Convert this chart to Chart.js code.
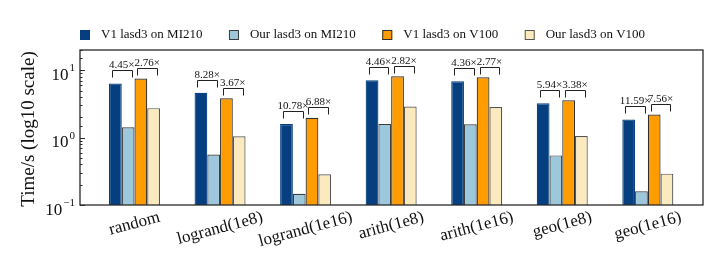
<!DOCTYPE html>
<html><head><meta charset="utf-8">
<script src="https://cdn.jsdelivr.net/npm/chart.js@4.4.0/dist/chart.umd.min.js"></script>
<style>html,body{margin:0;padding:0;background:#fff;} canvas{display:block;}</style>
</head><body>
<canvas id="c" width="718" height="267"></canvas>
<script>
const categories = ['random','logrand(1e8)','logrand(1e16)','arith(1e8)','arith(1e16)','geo(1e8)','geo(1e16)'];
const seriesNames = ['V1 lasd3 on MI210','Our lasd3 on MI210','V1 lasd3 on V100','Our lasd3 on V100'];
const v1MI210  = [6.37, 4.64, 1.59, 7.13, 6.89, 3.24, 1.86];
const ourMI210 = [1.43, 0.56, 0.147, 1.60, 1.58, 0.545, 0.16];
const v1V100   = [7.55, 3.84, 1.97, 8.16, 7.89, 3.58, 2.21];
const ourV100  = [2.74, 1.05, 0.286, 2.89, 2.85, 1.06, 0.292];
const speedupMI210 = ['4.45','8.28','10.78','4.46','4.36','5.94','11.59'];
const speedupV100  = ['2.76','3.67','6.88','2.82','2.77','3.38','7.56'];
const yTickValues = [0.1, 1, 10];
const yAxisTitle = 'Time/s (log10 scale)';

const SERIF = '"Liberation Serif","Times New Roman",serif';
const fills = ['#053f7f', '#9dc8dc', '#fe9c00', '#faeabd'];
const edges = ['#053f7f', '#3c3c3c', '#2e2e2e', '#555555'];
const seriesValues = [v1MI210, ourMI210, v1V100, ourV100];

const datasets = seriesValues.map((vals, k) => ({
  label: seriesNames[k],
  data: vals.map((v, i) => ({x: i, y: v})),
  backgroundColor: fills[k],
  borderColor: edges[k],
  borderWidth: 1.2,
  borderSkipped: 'start',
  categoryPercentage: 0.596,
  barPercentage: 1.0
}));

const decor = {
  id: 'decor',
  afterDatasetsDraw(chart) {
    const ctx = chart.ctx;
    const a = chart.chartArea;
    const ys = chart.scales.y, xs = chart.scales.x;
    ctx.save();
    // frame
    ctx.strokeStyle = '#2a2a2a';
    ctx.lineWidth = 1.3;
    ctx.strokeRect(a.left, a.top, a.right - a.left, a.bottom - a.top);
    // inward y ticks
    ctx.lineWidth = 1;
    ys.ticks.forEach(t => {
      const v = t.value;
      const lg = Math.log10(v);
      const major = Math.abs(lg - Math.round(lg)) < 1e-6;
      const y = Math.round(ys.getPixelForValue(v)) + 0.5;
      ctx.beginPath();
      ctx.moveTo(a.left, y);
      ctx.lineTo(a.left + (major ? 5 : 2.5), y);
      ctx.stroke();
    });
    // y tick labels 10^n
    ctx.fillStyle = '#111';
    ctx.textBaseline = 'alphabetic';
    ctx.textAlign = 'left';
    yTickValues.forEach(v => {
      const e = Math.round(Math.log10(v));
      const es = e < 0 ? '\u2212' + (-e) : String(e);
      const y = ys.getPixelForValue(v);
      ctx.font = '11px ' + SERIF;
      const ew = ctx.measureText(es).width;
      ctx.font = '17px ' + SERIF;
      const bw = ctx.measureText('10').width;
      const right = 75;
      const xb = right - ew - 1 - bw;
      ctx.fillText('10', xb, y + 9.5);
      ctx.font = '11px ' + SERIF;
      ctx.fillText(es, xb + bw + 1, y + 1);
    });
    // y title
    ctx.save();
    ctx.translate(29, (a.top + a.bottom) / 2 + 1.5);
    ctx.rotate(-Math.PI / 2);
    ctx.font = '19px ' + SERIF;
    ctx.textAlign = 'center';
    ctx.textBaseline = 'middle';
    ctx.fillText(yAxisTitle, 0, 0);
    ctx.restore();
    // x labels rotated 15deg, centered
    ctx.font = '17px ' + SERIF;
    categories.forEach((lab, i) => {
      const cx = xs.getPixelForValue(i);
      const w = ctx.measureText(lab).width;
      const cy = a.bottom + 12 + w * 0.1294;
      ctx.save();
      ctx.translate(cx, cy);
      ctx.rotate(-15 * Math.PI / 180);
      ctx.textAlign = 'center';
      ctx.textBaseline = 'middle';
      ctx.fillText(lab, 0, 0);
      ctx.restore();
    });
    // brackets + speedup labels
    const pairs = [[0, 1, speedupMI210, 13], [2, 3, speedupV100, 10.7]];
    ctx.strokeStyle = '#222';
    ctx.lineWidth = 1;
    ctx.font = '11px ' + SERIF;
    ctx.textAlign = 'center';
    ctx.textBaseline = 'alphabetic';
    categories.forEach((_, i) => {
      pairs.forEach(([p, q, labels, off]) => {
        const ba = chart.getDatasetMeta(p).data[i];
        const bb = chart.getDatasetMeta(q).data[i];
        const cx = (ba.x + bb.x) / 2;
        const half = (bb.x - ba.x) / 2 + 3.5;
        const top = Math.round(Math.min(ba.y, bb.y) - off) + 0.5;
        const x1 = Math.round(cx - half) + 0.5, x2 = Math.round(cx + half) + 0.5;
        ctx.beginPath();
        ctx.moveTo(x1, top + 7);
        ctx.lineTo(x1, top);
        ctx.lineTo(x2, top);
        ctx.lineTo(x2, top + 7);
        ctx.stroke();
        ctx.fillText(labels[i] + '\u00d7', cx, top - 3);
      });
    });
    // legend
    ctx.font = '13px ' + SERIF;
    ctx.textAlign = 'left';
    ctx.textBaseline = 'middle';
    let lx = 80;
    const ly = 35;
    chart.data.datasets.forEach(ds => {
      ctx.fillStyle = ds.backgroundColor;
      ctx.fillRect(lx, ly - 5, 10, 10);
      ctx.strokeStyle = ds.borderColor;
      ctx.lineWidth = 1;
      ctx.strokeRect(lx + 0.5, ly - 4.5, 9, 9);
      ctx.fillStyle = '#111';
      ctx.fillText(ds.label, lx + 21, ly);
      lx += 21 + ctx.measureText(ds.label).width + 26.5;
    });
    ctx.restore();
  }
};

new Chart(document.getElementById('c'), {
  type: 'bar',
  data: { datasets },
  options: {
    responsive: false,
    animation: false,
    devicePixelRatio: 1,
    layout: { padding: { left: 0, right: 15, top: 50, bottom: 0 } },
    plugins: { legend: { display: false }, tooltip: { enabled: false } },
    scales: {
      x: {
        type: 'linear', min: -0.637, max: 6.645, offset: false,
        grid: { display: false }, border: { display: false },
        ticks: { display: false },
        afterBuildTicks: s => { s.ticks = categories.map((_, i) => ({ value: i })); },
        afterFit: s => { s.height = 62; }
      },
      y: {
        type: 'logarithmic', min: 0.1, max: 20,
        grid: { display: false }, border: { display: false },
        ticks: { display: false },
        afterFit: s => { s.width = 80; }
      }
    }
  },
  plugins: [decor]
});
</script>
</body></html>
